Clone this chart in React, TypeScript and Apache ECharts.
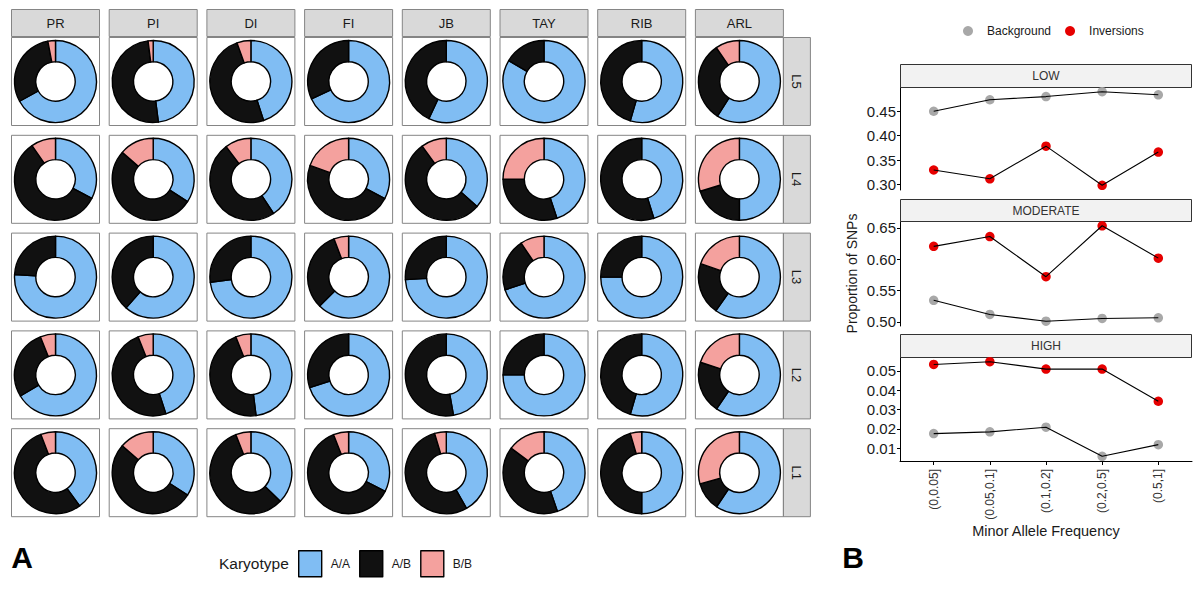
import React, { useEffect, useRef } from "react";
import * as echarts from "echarts";

// ---------- Panel A data ----------
const populations = ["PR", "PI", "DI", "FI", "JB", "TAY", "RIB", "ARL"];
const inversions = ["L5", "L4", "L3", "L2", "L1"];
const karyotypes = ["A/A", "A/B", "B/B"];
const karyotypeColors = ["#80BDF3", "#111111", "#F4A19E"];

// rows follow `inversions`, columns follow `populations`
const shareAA = [
  [0.67, 0.48, 0.45, 0.68, 0.57, 0.835, 0.545, 0.59],
  [0.327, 0.342, 0.407, 0.328, 0.365, 0.449, 0.452, 0.5],
  [0.76, 0.615, 0.73, 0.625, 0.74, 0.7, 0.75, 0.597],
  [0.664, 0.45, 0.48, 0.7, 0.472, 0.75, 0.545, 0.594],
  [0.4, 0.342, 0.373, 0.325, 0.418, 0.447, 0.5, 0.594],
];
const shareAB = [
  [0.3, 0.5, 0.495, 0.32, 0.43, 0.165, 0.455, 0.315],
  [0.576, 0.522, 0.49, 0.477, 0.535, 0.301, 0.548, 0.203],
  [0.24, 0.385, 0.27, 0.317, 0.26, 0.206, 0.25, 0.206],
  [0.276, 0.49, 0.46, 0.3, 0.528, 0.25, 0.455, 0.206],
  [0.542, 0.522, 0.567, 0.615, 0.536, 0.405, 0.455, 0.112],
];
const shareBB = [
  [0.03, 0.02, 0.055, 0, 0, 0, 0, 0.095],
  [0.097, 0.136, 0.103, 0.195, 0.1, 0.25, 0, 0.297],
  [0, 0, 0, 0.058, 0, 0.094, 0, 0.197],
  [0.06, 0.06, 0.06, 0, 0, 0, 0, 0.2],
  [0.058, 0.136, 0.06, 0.06, 0.046, 0.148, 0.045, 0.294],
];

// ---------- Panel B data ----------
const mafBins = ["(0,0.05]", "(0.05,0.1]", "(0.1,0.2]", "(0.2,0.5]", "(0.5,1]"];
const impactClasses = ["LOW", "MODERATE", "HIGH"];
const lowBackground = [0.45, 0.4735, 0.48, 0.49, 0.4836];
const lowInversions = [0.33, 0.312, 0.3787, 0.2987, 0.3666];
const moderateBackground = [0.5344, 0.5118, 0.501, 0.5054, 0.5065];
const moderateInversions = [0.6204, 0.636, 0.572, 0.6532, 0.6016];
const highBackground = [0.0176, 0.0185, 0.0209, 0.0059, 0.0119];
const highInversions = [0.0533, 0.0547, 0.0509, 0.0509, 0.0343];
const lowTicks = [0.3, 0.35, 0.4, 0.45];
const moderateTicks = [0.5, 0.55, 0.6, 0.65];
const highTicks = [0.01, 0.02, 0.03, 0.04, 0.05];

const FONT = "'Liberation Sans', Arial, Helvetica, sans-serif";

function buildOption() {
  const colLeft = (i: number) => 11 + i * 97.7;
  const rowTop = (j: number) => 37 + j * 97.8;
  const box = 88;

  const graphics: any[] = [];
  const series: any[] = [];

  // Panel A: strips and boxes
  populations.forEach((p, i) => {
    graphics.push({
      type: "rect",
      shape: { x: colLeft(i) + 0.5, y: 9.5, width: box, height: 27 },
      style: { fill: "#D9D9D9", stroke: "#858585", lineWidth: 1 },
      z: 1,
    });
    graphics.push({
      type: "text",
      x: colLeft(i) + 44.5,
      y: 23,
      style: { text: p, fill: "#1a1a1a", font: `13px ${FONT}`, align: "center", verticalAlign: "middle" },
      z: 2,
    });
  });
  inversions.forEach((l, j) => {
    const x = colLeft(7) + box + 0.5;
    graphics.push({
      type: "rect",
      shape: { x, y: rowTop(j) + 0.5, width: 27, height: box },
      style: { fill: "#D9D9D9", stroke: "#858585", lineWidth: 1 },
      z: 1,
    });
    graphics.push({
      type: "text",
      x: x + 13.5,
      y: rowTop(j) + 44.5,
      rotation: -Math.PI / 2,
      style: { text: l, fill: "#1a1a1a", font: `13px ${FONT}`, align: "center", verticalAlign: "middle" },
      z: 2,
    });
    populations.forEach((p, i) => {
      graphics.push({
        type: "rect",
        shape: { x: colLeft(i) + 0.5, y: rowTop(j) + 0.5, width: box, height: box },
        style: { fill: "transparent", stroke: "#858585", lineWidth: 1 },
        z: 1,
      });
      const vals = [shareAA[j][i], shareAB[j][i], shareBB[j][i]];
      series.push({
        type: "pie",
        name: `${p}-${l}`,
        center: [colLeft(i) + 44.5, rowTop(j) + 44.5],
        radius: [19.7, 41],
        startAngle: 90,
        clockwise: true,
        silent: true,
        avoidLabelOverlap: false,
        label: { show: false },
        labelLine: { show: false },
        emphasis: { disabled: true },
        itemStyle: { borderColor: "#000", borderWidth: 1.4 },
        data: karyotypes
          .map((k, idx) => ({ name: k, value: vals[idx], itemStyle: { color: karyotypeColors[idx] } }))
          .filter((d) => d.value > 0),
        z: 3,
      });
    });
  });

  graphics.push({
    type: "text",
    x: 22,
    y: 557,
    style: { text: "A", fill: "#000", font: `bold 30px ${FONT}`, align: "center", verticalAlign: "middle" },
  });
  graphics.push({
    type: "text",
    x: 219,
    y: 563,
    style: { text: "Karyotype", fill: "#1a1a1a", font: `15.5px ${FONT}`, align: "left", verticalAlign: "middle" },
  });
  graphics.push({
    type: "text",
    x: 853,
    y: 557,
    style: { text: "B", fill: "#000", font: `bold 30px ${FONT}`, align: "center", verticalAlign: "middle" },
  });

  // Panel B
  const grids = [
    { left: 900, top: 87, width: 292, height: 103 },
    { left: 900, top: 221, width: 292, height: 105 },
    { left: 900, top: 357, width: 292, height: 104 },
  ];
  const stripTops = [64, 199, 334];
  const bgSets = [lowBackground, moderateBackground, highBackground];
  const invSets = [lowInversions, moderateInversions, highInversions];
  const tickSets = [lowTicks, moderateTicks, highTicks];

  impactClasses.forEach((c, g) => {
    const top = stripTops[g];
    const h = grids[g].top - top;
    graphics.push({
      type: "rect",
      shape: { x: 900.5, y: top + 0.5, width: 291, height: h },
      style: { fill: "#F2F2F2", stroke: "#333333", lineWidth: 1 },
      z: 1,
    });
    graphics.push({
      type: "text",
      x: 1046,
      y: top + h / 2 + 0.5,
      style: { text: c, fill: "#333333", font: `12px ${FONT}`, align: "center", verticalAlign: "middle" },
      z: 2,
    });
  });

  const catIdx = mafBins.map((_, i) => i + 1);
  const xAxes = grids.map((_, g) => {
    const bottom = g === 2;
    return {
      type: "value",
      gridIndex: g,
      min: 0.4,
      max: 5.6,
      splitLine: { show: false },
      axisLine: { show: bottom, lineStyle: { color: "#000", width: 1 } },
      axisTick: { show: bottom, customValues: catIdx, length: 4, lineStyle: { color: "#000" } },
      axisLabel: {
        show: bottom,
        customValues: catIdx,
        rotate: 90,
        margin: 8,
        fontSize: 12,
        color: "#333",
        fontFamily: FONT,
        formatter: (v: number) => mafBins[Math.round(v) - 1] ?? "",
      },
      name: bottom ? "Minor Allele Frequency" : "",
      nameLocation: "middle",
      nameGap: 62,
      nameTextStyle: { fontSize: 14.5, color: "#1a1a1a", fontFamily: FONT },
    };
  });
  const yAxes = grids.map((_, g) => {
    const all = [...bgSets[g], ...invSets[g]];
    const lo = Math.min(...all);
    const hi = Math.max(...all);
    const pad = (hi - lo) * 0.05;
    return {
      type: "value",
      gridIndex: g,
      min: lo - pad,
      max: hi + pad,
      splitLine: { show: false },
      axisLine: { show: true, lineStyle: { color: "#000", width: 1 } },
      axisTick: { show: true, customValues: tickSets[g], length: 3, lineStyle: { color: "#000" } },
      axisLabel: {
        customValues: tickSets[g],
        margin: 4,
        fontSize: 15,
        color: "#1a1a1a",
        fontFamily: FONT,
        formatter: (v: number) => v.toFixed(2),
      },
      name: g === 1 ? "Proportion of SNPs" : "",
      nameLocation: "middle",
      nameRotate: 90,
      nameGap: 41,
      nameTextStyle: { fontSize: 14, color: "#1a1a1a", fontFamily: FONT },
    };
  });

  grids.forEach((_, g) => {
    const pairs: [string, number[], string][] = [
      ["Background", bgSets[g], "#A8A8A8"],
      ["Inversions", invSets[g], "#E60000"],
    ];
    pairs.forEach(([name, vals, color]) => {
      const data = vals.map((v, i) => [catIdx[i], v]);
      series.push({
        type: "scatter",
        name,
        xAxisIndex: g,
        yAxisIndex: g,
        symbolSize: 9.5,
        itemStyle: { color, opacity: 1 },
        silent: true,
        data,
        z: 2,
      });
      series.push({
        type: "line",
        name: `${name} trend`,
        xAxisIndex: g,
        yAxisIndex: g,
        showSymbol: false,
        symbol: "none",
        lineStyle: { color: "#000", width: 1.1 },
        silent: true,
        data,
        z: 3,
      });
    });
  });

  return {
    animation: false,
    backgroundColor: "#ffffff",
    textStyle: { fontFamily: FONT },
    grid: grids,
    xAxis: xAxes,
    yAxis: yAxes,
    legend: [
      {
        data: karyotypes,
        left: 298,
        top: 550,
        padding: 0,
        orient: "horizontal",
        icon: "rect",
        itemWidth: 23,
        itemHeight: 26,
        itemGap: 9,
        selectedMode: false,
        itemStyle: { borderColor: "#000", borderWidth: 1.4 },
        textStyle: { fontSize: 12, color: "#1a1a1a", fontFamily: FONT, padding: [0, 0, 0, 4] },
      },
      {
        data: ["Background", "Inversions"],
        left: 963,
        top: 25,
        padding: 0,
        orient: "horizontal",
        icon: "circle",
        itemWidth: 10,
        itemHeight: 10,
        itemGap: 14,
        selectedMode: false,
        itemStyle: { borderWidth: 0 },
        textStyle: { fontSize: 12, color: "#1a1a1a", fontFamily: FONT, padding: [0, 0, 0, 9] },
      },
    ],
    graphic: { elements: graphics },
    series,
  };
}

export default function App() {
  const ref = useRef<HTMLDivElement>(null);
  useEffect(() => {
    document.body.style.margin = "0";
    if (!ref.current) return;
    const chart = echarts.init(ref.current, null, { renderer: "svg" });
    chart.setOption(buildOption() as any);
    return () => chart.dispose();
  }, []);
  return <div ref={ref} style={{ width: 1200, height: 595 }} />;
}
